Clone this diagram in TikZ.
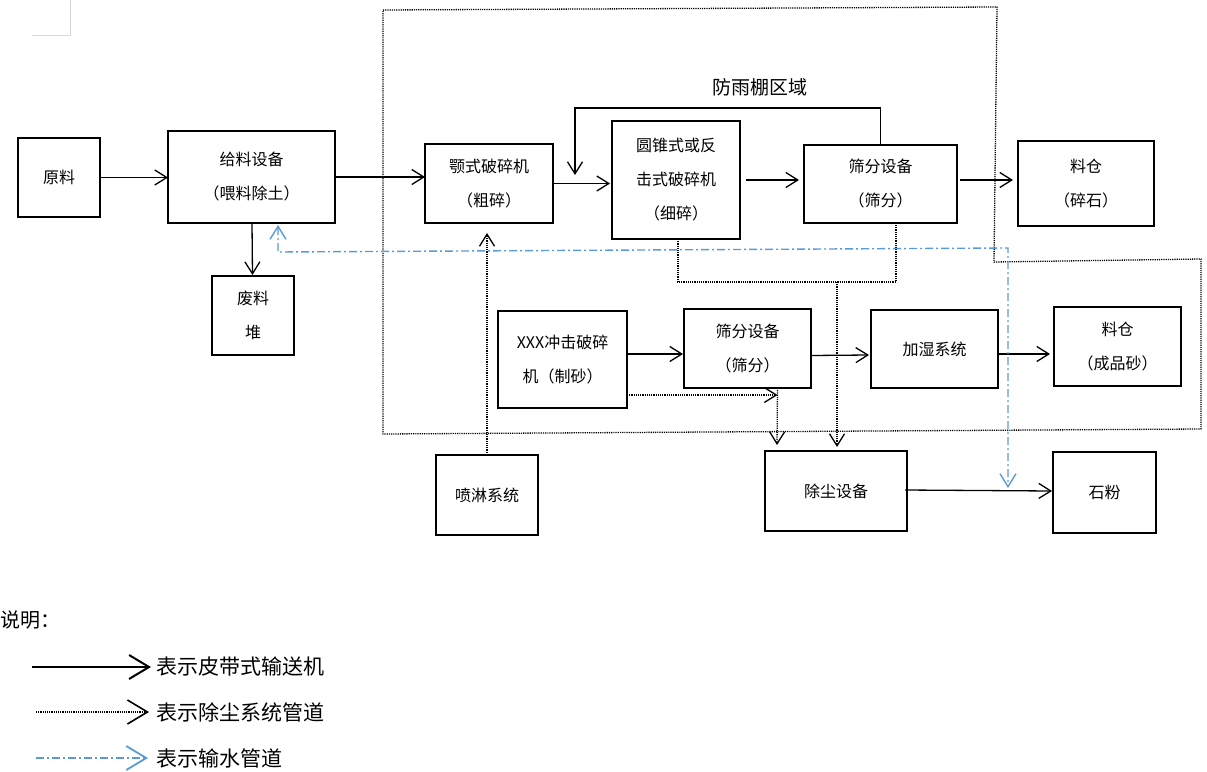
\documentclass[tikz,border=0pt]{standalone}
\usepackage{fontspec}
\newfontfamily\cjk{Noto Sans CJK SC}
\usetikzlibrary{arrows.meta,calc}
\definecolor{wblue}{RGB}{91,155,213}
\definecolor{cropgray}{RGB}{215,215,215}
\tikzset{barbtip/.tip={Straight Barb[length=12pt,width=15pt]},
  bigtip/.tip={Straight Barb[length=20pt,width=24pt]}}
\begin{document}
\begin{tikzpicture}[x=1pt,y=-1pt,
  box/.style={draw, line width=2pt, inner sep=0pt, outer sep=0pt, align=center,
    font=\cjk\fontsize{16}{34}\selectfont},
  belt/.style={line width=1.3pt, -{barbtip}},
  dust/.style={line width=1.3pt, dash pattern=on 1.2pt off 1pt},
  water/.style={draw=wblue, line width=1.4pt, dash pattern=on 8pt off 3pt on 2pt off 3pt},
  legtext/.style={anchor=west, inner sep=0pt, font=\cjk\fontsize{21}{21}\selectfont}]
\useasboundingbox (0,0) rectangle (1207,771);

% crop marks
\draw[cropgray, line width=0.8pt] (32,35) -- (70,35) -- (70,0);

% rain shelter region
\draw[dust] (383,10) -- (997,7) -- (994,262) -- (1201,259) -- (1201,429) -- (383,434) -- cycle;
\node[anchor=west, inner sep=0pt, font=\cjk\fontsize{19}{19}\selectfont] (roof) at (712,87) {防雨棚区域};

% boxes
\node[box, minimum width=82pt, minimum height=79pt] (yl) at (59,177.5) {原料};
\node[box, minimum width=167pt, minimum height=92pt] (gl) at (251.5,177) {给料设备\\（喂料除土）};
\node[box, minimum width=82pt, minimum height=79pt] (fl) at (253,315.5) {废料\\堆};
\node[box, minimum width=128pt, minimum height=79pt] (jaw) at (489,183.5) {颚式破碎机\\（粗碎）};
\node[box, minimum width=128pt, minimum height=118pt] (cone) at (676,180) {圆锥式或反\\击式破碎机\\（细碎）};
\node[box, minimum width=153pt, minimum height=78pt] (scr1) at (880.5,184) {筛分设备\\（筛分）};
\node[box, minimum width=136pt, minimum height=85pt] (bin1) at (1086,183.5) {料仓\\（碎石）};
\node[box, minimum width=129pt, minimum height=97pt] (xxx) at (562.5,359.5) {XXX冲击破碎\\机（制砂）};
\node[box, minimum width=127pt, minimum height=79pt] (scr2) at (747.5,348.5) {筛分设备\\（筛分）};
\node[box, minimum width=127pt, minimum height=78pt] (hum) at (934.5,349) {加湿系统};
\node[box, minimum width=127pt, minimum height=79pt] (bin2) at (1117.5,346.5) {料仓\\（成品砂）};
\node[box, minimum width=142pt, minimum height=80pt] (dust) at (836,491) {除尘设备};
\node[box, minimum width=103pt, minimum height=81pt] (powder) at (1104.5,492.5) {石粉};
\node[box, minimum width=102pt, minimum height=80pt] (spray) at (487,495) {喷淋系统};

% belt conveyors
\draw[belt] (yl.east) -- (yl.east -| gl.west);
\draw[belt] (gl.east) -- (gl.east -| jaw.west);
\draw[belt] ($(gl.south)+(0.5,0)$) -- ($(fl.north)+(-0.5,-1)$);
\draw[belt] (jaw.east) -- ($(jaw.east -| cone.west)+(-2,0)$);
\draw[belt] ($(cone.east)+(6,0)$) -- ($(cone.east -| scr1.west)+(-5,0)$);
\draw[belt] ($(scr1.east)+(3,-4)$) -- ($(bin1.west)+(-5,-3.5)$);
\coordinate (fb) at (575,175);
\draw[belt] (scr1.north) -- ++(0,-37) -| (fb);
\draw[belt] ($(xxx.east)+(0,-5.5)$) -- ($(scr2.west)+(-1,5.5)$);
\draw[belt] ($(scr2.east)+(0,7)$) -- ($(hum.west)+(-2,6)$);
\draw[belt] ($(hum.east)+(0,5)$) -- ($(bin2.west)+(-4,7.5)$);
\draw[belt] ($(dust.east)+(-2,-1)$) -- ($(powder.west)+(-1,-1.5)$);

% dust pipes
\coordinate (jawIn) at ($(jaw.south)+(-2,10)$);
\draw[dust, -{barbtip}] (spray.north) -- (spray.north |- jawIn);
\coordinate (j1) at (837,282);
\draw[dust] ($(cone.south)+(2,0)$) |- (j1) -| ($(scr1.south)+(15.5,0)$);
\draw[dust, -{barbtip}] (j1) -- ($(dust.north)+(1,-4)$);
\coordinate (j2) at ($(scr2.south)+(30,7)$);
\draw[dust, -{barbtip}] ($(xxx.east)+(0,35.5)$) -- (j2);
\draw[dust, -{barbtip}] ($(scr2.south)+(30,0)$) -- ($(dust.north)+(-59,-6)$);

% water pipe
\coordinate (w1) at (278,252);
\coordinate (w2) at (1008,248);
\coordinate (wEnd) at ($(dust.east)+(101,-3)$);
\draw[water, {Straight Barb[length=13pt,width=16pt]}-{Straight Barb[length=13pt,width=16pt]}]
  ($(gl.south)+(26.5,2)$) -- (w1) -- (w2) -- (wEnd);

% legend
\node[anchor=west, inner sep=0pt, font=\cjk\fontsize{20}{20}\selectfont] (note) at (0,620) {说明：};
\node[legtext] (lt1) at (156,667) {表示皮带式输送机};
\node[legtext] (lt2) at (156,712) {表示除尘系统管道};
\node[legtext] (lt3) at (156,758) {表示输水管道};
\coordinate (ls1) at (32,667);
\coordinate (ls2) at (36,712);
\coordinate (ls3) at (36,758);
\draw[line width=2pt, -{bigtip}] (ls1) -- ($(lt1.west)+(-5,0)$);
\draw[dust, line width=1.6pt, -{bigtip}] (ls2) -- ($(lt2.west)+(-7,0)$);
\draw[water, line width=1.8pt, -{bigtip}] (ls3) -- ($(lt3.west)+(-8,0)$);
\end{tikzpicture}
\end{document}
